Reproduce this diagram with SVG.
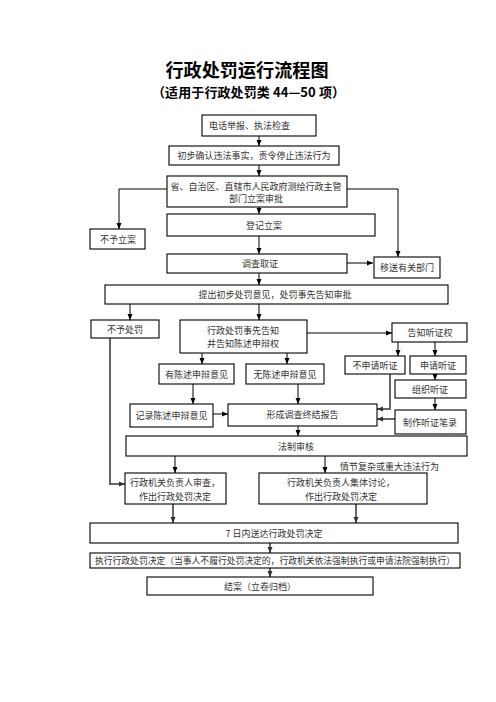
<svg xmlns="http://www.w3.org/2000/svg" width="496" height="702" viewBox="0 0 496 702">
<style>
.b{fill:#fff;stroke:#000;stroke-width:1.1}
.t{font-family:"Noto Sans CJK SC","Noto Sans",sans-serif;font-size:9px;fill:#333;text-anchor:middle;dominant-baseline:central}
.c{fill:none;stroke:#000;stroke-width:1}
.g{fill:none;stroke:#666;stroke-width:2}
</style>
<defs>
<marker id="a" viewBox="0 0 6 6" refX="6" refY="3" markerWidth="6" markerHeight="6" orient="auto" markerUnits="userSpaceOnUse"><path d="M0,0.5 L6,3 L0,5.5 z" fill="#000"/></marker>
<marker id="ag" viewBox="0 0 6 6" refX="6" refY="3" markerWidth="6" markerHeight="6" orient="auto" markerUnits="userSpaceOnUse"><path d="M0,0.5 L6,3 L0,5.5 z" fill="#333"/></marker>
</defs>
<rect width="496" height="702" fill="#fff"/>
<g id="title">
<text x="247" y="77" text-anchor="middle" font-family="Noto Sans CJK SC,sans-serif" font-size="18" font-weight="bold" fill="#000" textLength="163" lengthAdjust="spacingAndGlyphs">行政处罚运行流程图</text>
<text x="248.5" y="97" text-anchor="middle" font-family="Noto Sans CJK SC,sans-serif" font-size="13" font-weight="bold" fill="#000" textLength="193" lengthAdjust="spacing">（适用于行政处罚类 44—50 项）</text>
</g>
<g id="connectors">
<path class="c" d="M259,136 V146" marker-end="url(#a)"/>
<path class="c" d="M259,165 V176" marker-end="url(#a)"/>
<path class="c" d="M167,189 H119 V229" marker-end="url(#a)"/>
<path class="c" d="M347,189 H398 V257" marker-end="url(#a)"/>
<path class="c" d="M259,207 V214" marker-end="url(#a)"/>
<path class="c" d="M259,236 V254" marker-end="url(#a)"/>
<path class="c" d="M347,263 H373" marker-end="url(#a)"/>
<path class="c" d="M259,273 V285" marker-end="url(#a)"/>
<path class="c" d="M130,304 V320" marker-end="url(#a)"/>
<path class="c" d="M259,304 V320" marker-end="url(#a)"/>
<path class="c" d="M307,333 H392" marker-end="url(#a)"/>
<path class="c" d="M398,342 V356" marker-end="url(#a)"/>
<path class="c" d="M435,342 V356" marker-end="url(#a)"/>
<path class="c" d="M202,353 V364" marker-end="url(#a)"/>
<path class="c" d="M287,353 V364" marker-end="url(#a)"/>
<path class="c" d="M435,374 V380" marker-end="url(#a)"/>
<path class="c" d="M435,398 V410" marker-end="url(#a)"/>
<path class="c" d="M193,384 V404" marker-end="url(#a)"/>
<path class="c" d="M298,384 V404" marker-end="url(#a)"/>
<path class="c" d="M213,414 H228" marker-end="url(#a)"/>
<path class="g" d="M390,374 V409 H377" marker-end="url(#ag)"/>
<path class="g" d="M395,419 H377" marker-end="url(#ag)"/>
<path class="c" d="M298,426 V436" marker-end="url(#a)"/>
<path class="g" d="M110,338 V484 H125" marker-end="url(#ag)"/>
<path class="c" d="M175,456 V473" marker-end="url(#a)"/>
<path class="c" d="M325,456 V473" marker-end="url(#a)"/>
<path class="g" d="M173,504 V523" marker-end="url(#ag)"/>
<path class="g" d="M356,504 V523" marker-end="url(#ag)"/>
<path class="g" d="M270,543 V553" marker-end="url(#ag)"/>
<path class="g" d="M270,568 V577" marker-end="url(#ag)"/>
</g>
<g id="n1"><rect class="b" x="202" y="115" width="114" height="21"/><text class="t" x="209" y="125.5" style="text-anchor:start">电话举报、执法检查</text></g>
<g id="n2"><rect class="b" x="169" y="146" width="170" height="19"/><text class="t" x="254" y="155.5">初步确认违法事实，责令停止违法行为</text></g>
<g id="n3"><rect class="b" x="167" y="176" width="180" height="31"/><text class="t" x="256" y="186.5">省、自治区、直辖市人民政府测绘行政主管</text><text class="t" x="256" y="198">部门立案审批</text></g>
<g id="n4"><rect class="b" x="167" y="214" width="208" height="22"/><text class="t" x="264" y="225">登记立案</text></g>
<g id="n5"><rect class="b" x="90" y="229" width="55" height="20"/><text class="t" x="118" y="239">不予立案</text></g>
<g id="n6"><rect class="b" x="167" y="254" width="180" height="19"/><text class="t" x="260" y="263.5">调查取证</text></g>
<g id="n7"><rect class="b" x="374" y="257" width="66" height="21"/><text class="t" x="407" y="267.5">移送有关部门</text></g>
<g id="n8"><rect class="b" x="105" y="285" width="343" height="19"/><text class="t" x="275" y="294.5">提出初步处罚意见，处罚事先告知审批</text></g>
<g id="n9"><rect class="b" x="91" y="320" width="68" height="18"/><text class="t" x="125" y="329">不予处罚</text></g>
<g id="n10"><rect class="b" x="180" y="320" width="127" height="33"/><text class="t" x="243" y="330">行政处罚事先告知</text><text class="t" x="243" y="343">并告知陈述申辩权</text></g>
<g id="n11"><rect class="b" x="392" y="323" width="75" height="19"/><text class="t" x="430" y="332.5">告知听证权</text></g>
<g id="n12"><rect class="b" x="345" y="356" width="60" height="18"/><text class="t" x="375" y="365">不申请听证</text></g>
<g id="n13"><rect class="b" x="410" y="356" width="56" height="18"/><text class="t" x="438" y="365">申请听证</text></g>
<g id="n14"><rect class="b" x="159" y="364" width="75" height="20"/><text class="t" x="196.5" y="374">有陈述申辩意见</text></g>
<g id="n15"><rect class="b" x="246" y="364" width="78" height="20"/><text class="t" x="285" y="374">无陈述申辩意见</text></g>
<g id="n16"><rect class="b" x="395" y="380" width="71" height="18"/><text class="t" x="430" y="389">组织听证</text></g>
<g id="n17"><rect class="b" x="130" y="404" width="83" height="23"/><text class="t" x="171.5" y="415">记录陈述申辩意见</text></g>
<g id="n18"><rect class="b" x="228" y="404" width="149" height="22"/><text class="t" x="302.5" y="414">形成调查终结报告</text></g>
<g id="n19"><rect class="b" x="395" y="410" width="71" height="24"/><text class="t" x="430" y="422">制作听证笔录</text></g>
<g id="n20"><rect class="b" x="126" y="436" width="341" height="20"/><text class="t" x="296" y="446">法制审核</text></g>
<g id="n21"><text class="t" x="340" y="466" style="text-anchor:start">情节复杂或重大违法行为</text></g>
<g id="n22"><rect class="b" x="125" y="473" width="101" height="31"/><text class="t" x="175" y="482">行政机关负责人审查，</text><text class="t" x="175" y="496">作出行政处罚决定</text></g>
<g id="n23"><rect class="b" x="259" y="473" width="168" height="31"/><text class="t" x="341" y="482">行政机关负责人集体讨论，</text><text class="t" x="341" y="496">作出行政处罚决定</text></g>
<g id="n24"><rect class="b" x="90" y="523" width="368" height="20"/><text class="t" x="274" y="533">7 日内送达行政处罚决定</text></g>
<g id="n25"><rect class="b" x="90" y="553" width="370" height="15"/><text class="t" x="275" y="560.5" textLength="360" lengthAdjust="spacingAndGlyphs">执行行政处罚决定（当事人不履行处罚决定的，行政机关依法强制执行或申请法院强制执行）</text></g>
<g id="n26"><rect class="b" x="147" y="577" width="226" height="18"/><text class="t" x="260" y="586">结案（立卷归档）</text></g>
</svg>
